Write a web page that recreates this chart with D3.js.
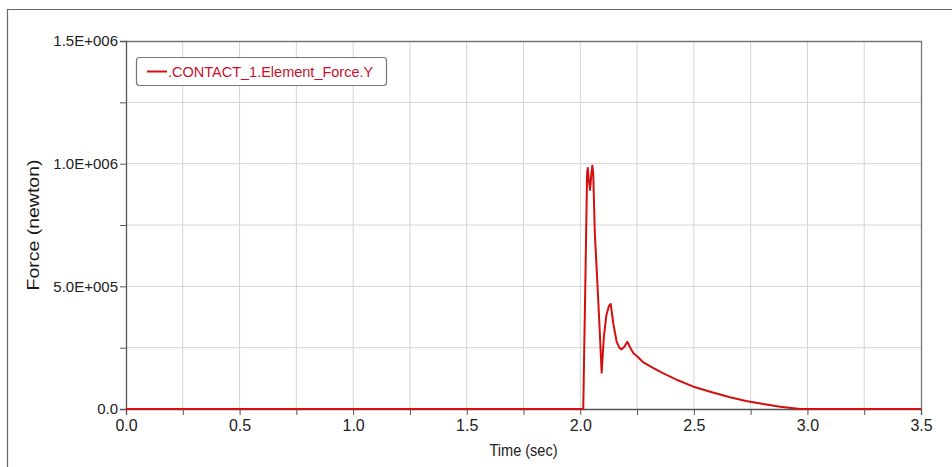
<!DOCTYPE html>
<html>
<head>
<meta charset="utf-8">
<script src="https://cdn.jsdelivr.net/npm/d3@7"></script>
<style>
  body { margin: 0; background: #fff; }
  svg { display: block; font-family: "Liberation Sans", Arial, sans-serif; }
</style>
</head>
<body>
<svg id="chart" width="952" height="467"></svg>
<script>
// time (sec) and contact force (newton)
const times = [0, 2.013, 2.022, 2.030, 2.033, 2.038, 2.043, 2.049, 2.053, 2.057, 2.064, 2.075, 2.086, 2.094,
  2.104, 2.115, 2.126, 2.134, 2.145, 2.160, 2.172, 2.182, 2.195, 2.207, 2.220, 2.234, 2.250, 2.270, 2.280,
  2.320, 2.366, 2.430, 2.498, 2.580, 2.659, 2.730, 2.806, 2.880, 2.938, 2.970, 3.5];
const forces = [0, 0, 500000, 960000, 982000, 930000, 893000, 960000, 992000, 960000, 717000, 520000, 310000, 148000,
  295000, 383000, 420000, 428000, 350000, 275000, 250000, 243000, 255000, 274000, 250000, 227000, 215000, 197000, 189000,
  168000, 145000, 117000, 91000, 68000, 48000, 33000, 20000, 9000, 3000, 0, 0];

const xTicks = [0, 0.5, 1.0, 1.5, 2.0, 2.5, 3.0, 3.5];
const yTicks = [0, 500000, 1000000, 1500000];
const yTickLabels = ["0.0", "5.0E+005", "1.0E+006", "1.5E+006"];
const seriesName = ".CONTACT_1.Element_Force.Y";

const data = times.map((t, i) => ({ t: t, f: forces[i] }));

const svg = d3.select('#chart');
const pLeft = 126, pRight = 921, pTop = 41, pBottom = 409;

const x = d3.scaleLinear().domain([0, 3.5]).range([pLeft, pRight]);
const y = d3.scaleLinear().domain([0, 1500000]).range([pBottom, pTop]);

// outer frame
svg.append('path')
  .attr('d', 'M7.5,467 L7.5,9.5 L952,9.5')
  .attr('fill', 'none')
  .attr('stroke', '#666')
  .attr('stroke-width', 1.2);

// grid
const grid = svg.append('g');
grid.selectAll('.vg')
  .data(d3.range(1, 14).map(i => i * 0.25))
  .join('line')
  .attr('x1', d => x(d)).attr('x2', d => x(d))
  .attr('y1', pTop).attr('y2', pBottom)
  .attr('stroke', '#d4d4d4');
grid.selectAll('.hg')
  .data(d3.range(1, 6).map(i => i * 250000))
  .join('line')
  .attr('x1', pLeft).attr('x2', pRight)
  .attr('y1', d => y(d)).attr('y2', d => y(d))
  .attr('stroke', '#d4d4d4');

// top / right border
svg.append('path')
  .attr('d', `M${pLeft},${pTop + 0.5} L${pRight + 0.5},${pTop + 0.5} L${pRight + 0.5},${pBottom}`)
  .attr('fill', 'none')
  .attr('stroke', '#777')
  .attr('stroke-width', 1.3);

// axes
const xAxis = d3.axisBottom(x)
  .tickValues(d3.range(0, 15).map(i => i * 0.25))
  .tickSize(6)
  .tickFormat(d => xTicks.includes(d) ? d3.format('.1f')(d) : '');
const gx = svg.append('g')
  .attr('transform', `translate(0,${pBottom})`)
  .call(xAxis);
gx.select('.domain').attr('stroke', '#555').attr('stroke-width', 1.3);
gx.selectAll('.tick line').attr('stroke', '#555');
gx.selectAll('.tick text')
  .attr('font-size', 16)
  .attr('font-family', '"Liberation Sans", Arial, sans-serif')
  .attr('fill', '#222')
  .attr('dy', '0.8em');

const yAxis = d3.axisLeft(y)
  .tickValues(d3.range(0, 7).map(i => i * 250000))
  .tickSize(6)
  .tickFormat(d => {
    const k = yTicks.indexOf(d);
    return k >= 0 ? yTickLabels[k] : '';
  });
const gy = svg.append('g')
  .attr('transform', `translate(${pLeft},0)`)
  .call(yAxis);
gy.select('.domain').attr('stroke', '#555').attr('stroke-width', 1.3);
gy.selectAll('.tick line').attr('stroke', '#555');
gy.selectAll('.tick text')
  .attr('font-size', 15)
  .attr('font-family', '"Liberation Sans", Arial, sans-serif')
  .attr('fill', '#222')
  .attr('x', -8);

// axis titles
svg.append('text')
  .attr('x', (pLeft + pRight) / 2)
  .attr('y', 456)
  .attr('text-anchor', 'middle')
  .attr('font-size', 17)
  .attr('textLength', 68)
  .attr('lengthAdjust', 'spacingAndGlyphs')
  .attr('fill', '#222')
  .text('Time (sec)');

svg.append('text')
  .attr('transform', `translate(39,${(pTop + pBottom) / 2}) rotate(-90)`)
  .attr('text-anchor', 'middle')
  .attr('font-size', 17)
  .attr('textLength', 131)
  .attr('lengthAdjust', 'spacingAndGlyphs')
  .attr('fill', '#1a1a1a')
  .text('Force (newton)');

// curve
const line = d3.line().x(d => x(d.t)).y(d => y(d.f));
svg.append('path')
  .datum(data)
  .attr('d', line)
  .attr('fill', 'none')
  .attr('stroke', '#d40f0f')
  .attr('stroke-width', 2)
  .attr('stroke-linejoin', 'round');

// legend
const lg = svg.append('g');
lg.append('rect')
  .attr('x', 136.5).attr('y', 57.5)
  .attr('width', 250).attr('height', 28)
  .attr('rx', 3)
  .attr('fill', '#fff')
  .attr('stroke', '#777')
  .attr('stroke-width', 1.2);
lg.append('line')
  .attr('x1', 147).attr('x2', 167)
  .attr('y1', 71.5).attr('y2', 71.5)
  .attr('stroke', '#d40f0f')
  .attr('stroke-width', 2);
lg.append('text')
  .attr('x', 168).attr('y', 77)
  .attr('font-size', 14.5)
  .attr('fill', '#c8102e')
  .text(seriesName);
</script>
</body>
</html>
